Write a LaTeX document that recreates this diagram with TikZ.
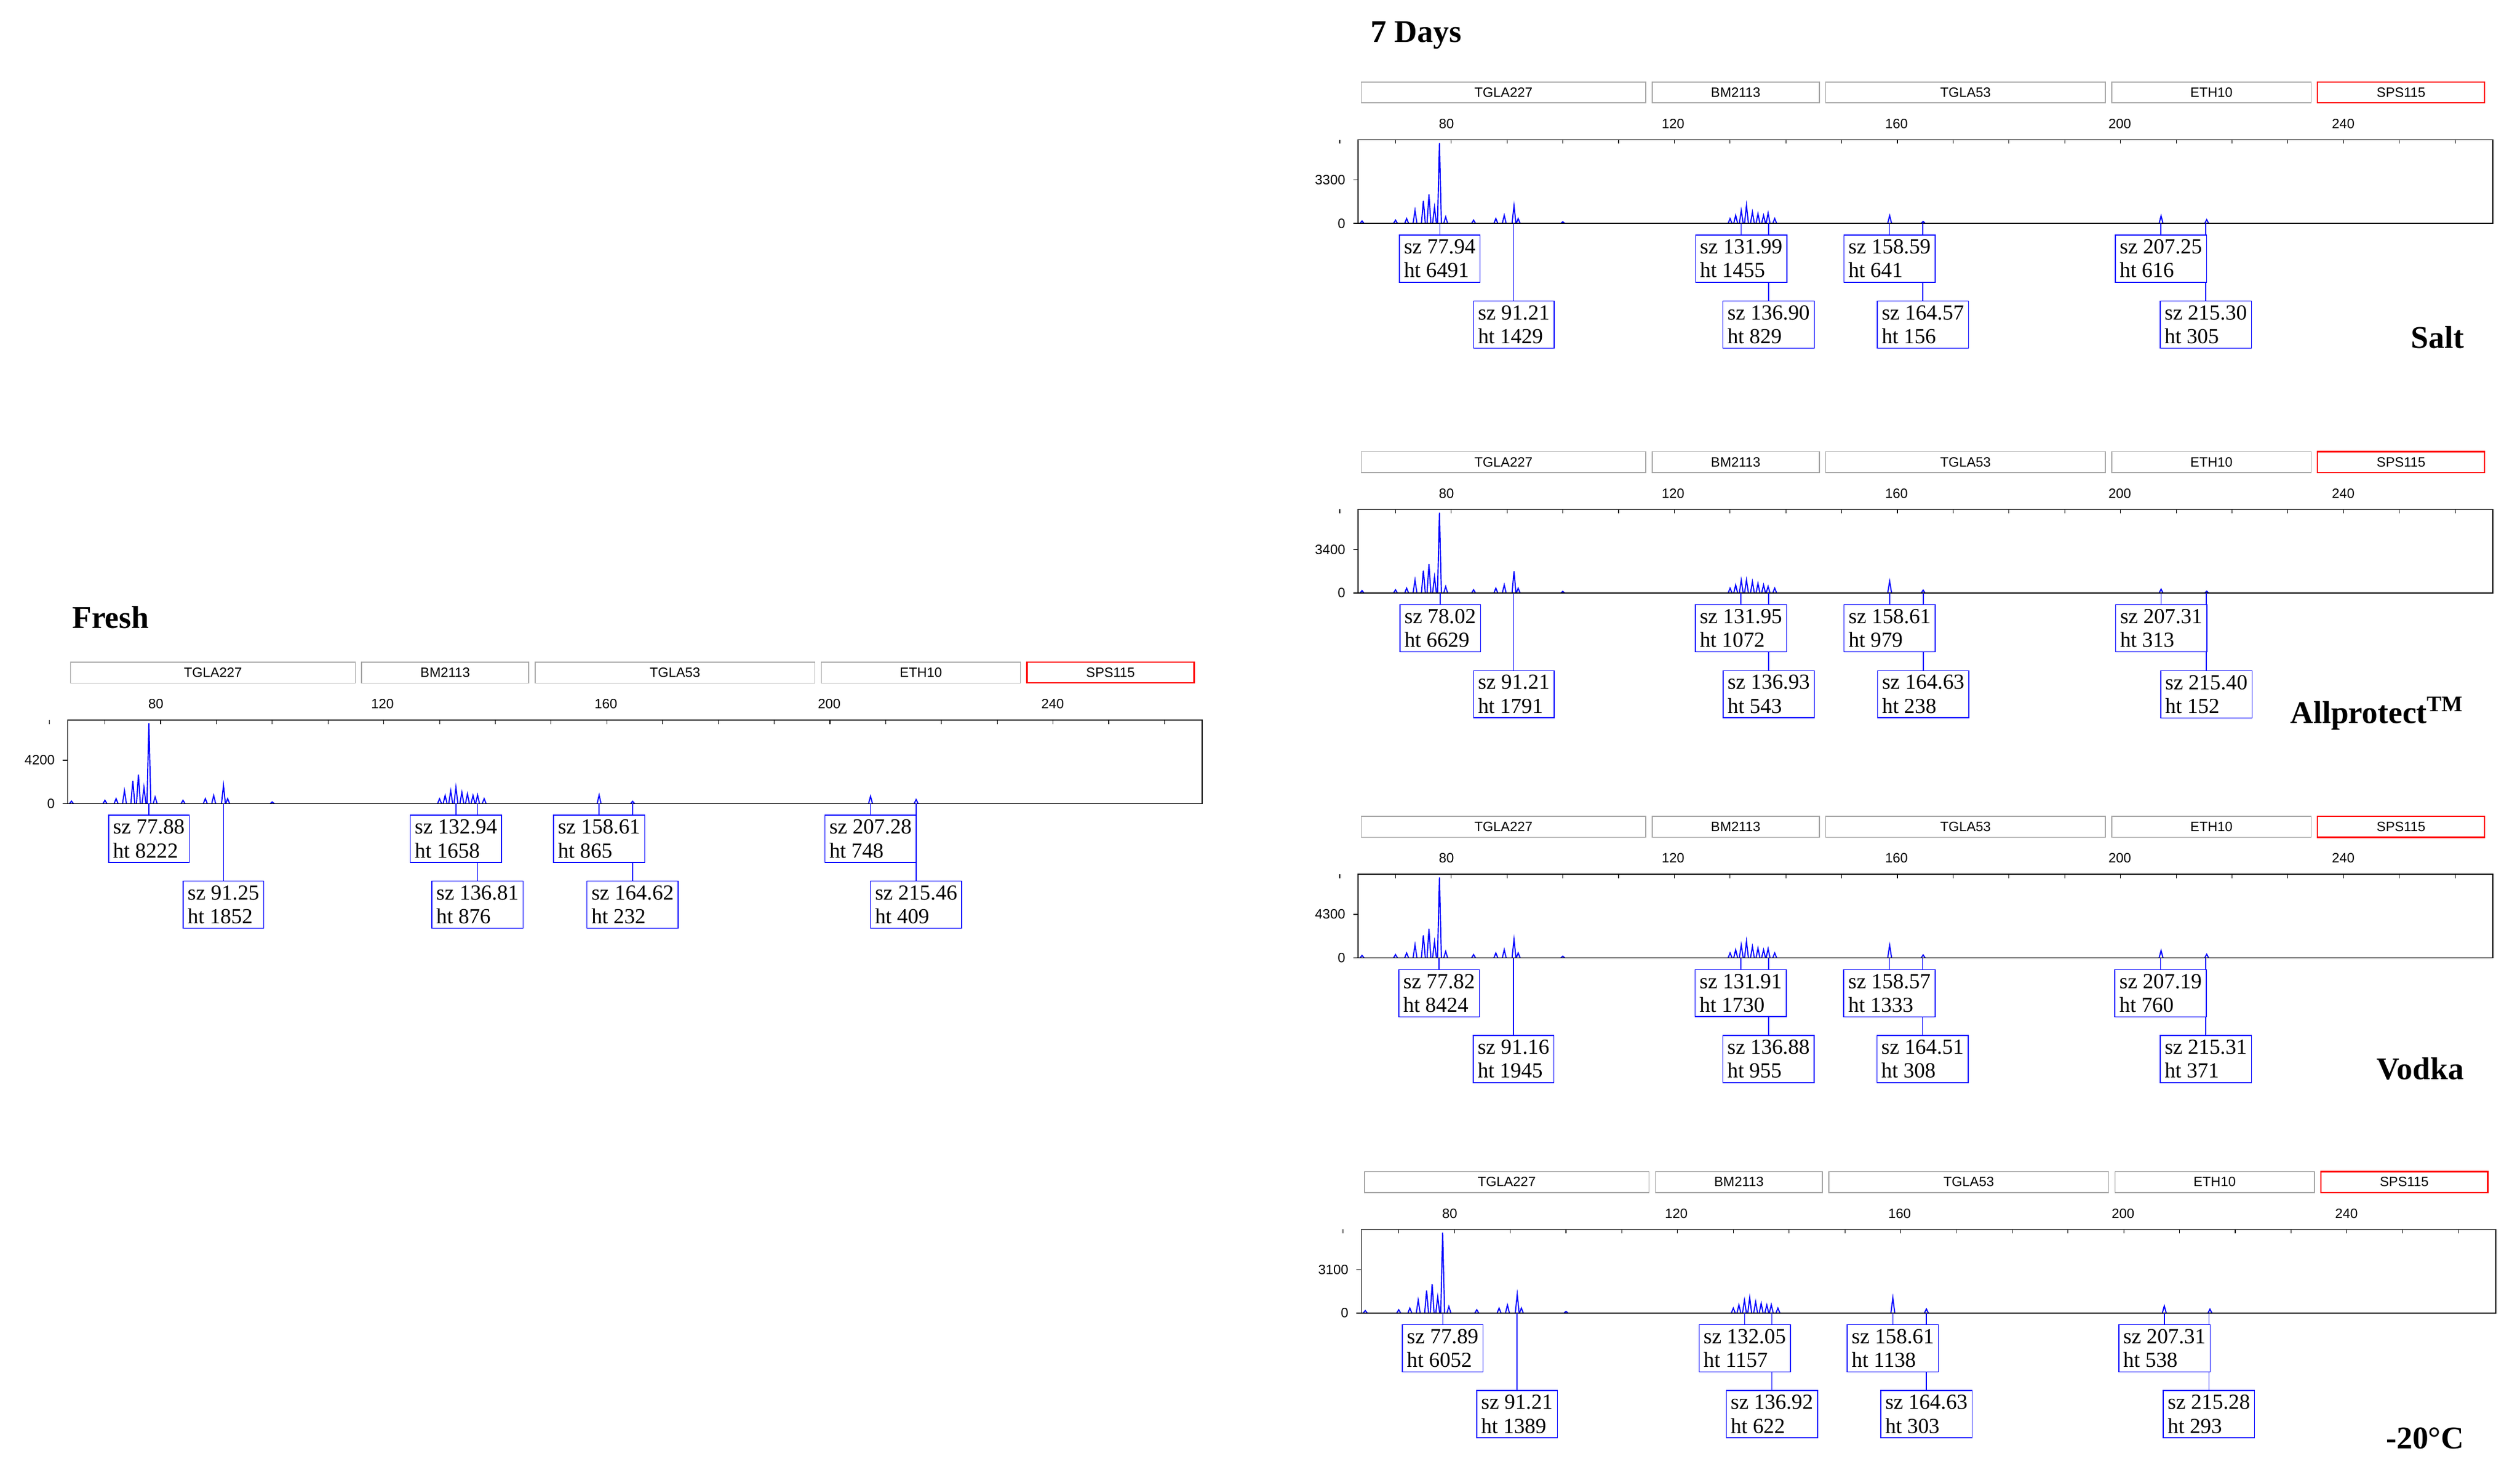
\documentclass[tikz,border=0pt]{standalone}
\usepackage{fontspec}
\setmainfont{Liberation Serif}
\newfontfamily\hdr{Liberation Sans}
\begin{document}
\def\X#1{\fpeval{58+(#1-80)*3.47}}
\tikzset{
 hbox/.style={draw=gray!70,line width=0.4pt},
 htxt/.style={font=\hdr\fontsize{6}{7}\selectfont},
 lbox/.style={draw=blue,fill=white,align=left,inner sep=2pt,font=\fontsize{9.5}{10.5}\selectfont,anchor=north},
 trace/.style={blue,line width=0.5pt},
 conn/.style={blue,line width=0.4pt},
 title/.style={font=\bfseries\fontsize{14}{16}\selectfont}
}
\newcommand\panelbase[1]{%
 \foreach \a/\b/\t in {2/179/TGLA227,183/287/BM2113,291/465/TGLA53,469/593/ETH10}{
   \draw[hbox] (\a,0) rectangle (\b,13);
   \node[htxt] at ({(\a+\b)/2},6.5) {\t};}
 \draw[red,line width=0.6pt] (597,0) rectangle (701,13);
 \node[htxt] at (649,6.5) {SPS115};
 \foreach \x/\t in {55/80,196/120,335/160,474/200,613/240}\node[htxt] at (\x,26) {\t};
 \foreach \i in {0,...,20}\draw[line width=0.3pt] ({\X{60+\i*10}},36) -- ++(0,2.5);
 \draw (0,61) -- (-3,61) (0,88) -- (-3,88);
 \node[htxt,anchor=east] at (-3,61) {#1};
 \node[htxt,anchor=east] at (-3,88) {0};
}
\newcommand\trace[7]{%
 \foreach \b/\h in {64/1.5,70/2,72/3,73.5/8,75/14,76/18,77/10,77.88/50,79/4,84/2,88/3,89.5/5,91.25/#1,92/3,100/1,
   130/3,131/5,132/8,132.94/#2,134/7,135/6,136/5,136.81/#3,138/3,158.61/#4,164.62/#5,207.28/#6,215.46/#7}
   \draw[trace] ({\X{\b}-1.2},88) -- ({\X{\b}},{88-\h}) -- ({\X{\b}+1.2},88);
 \draw[line width=0.4pt] (0,36) rectangle (706,88);
}
\newcommand\lbl[3]{%
 \node[lbox] (lb) at ({\X{#1}},#3) {sz #1\\ht #2};
 \draw[conn] (lb.north) -- ({\X{#1}},88);
}
\newcommand\labels[8]{%
 \lbl{#3}{#4}{136}\lbl{#1}{#2}{95}\lbl{#7}{#8}{136}\lbl{#5}{#6}{95}}
\begin{tikzpicture}[x=0.025cm,y=-0.025cm]
\useasboundingbox (0,0) rectangle (1568,915.6);
\node[title,anchor=west] (fresh) at (40,384) {Fresh};
\node[title,anchor=west] (days) at (848,22) {7 Days};
\node[title,anchor=east] (salt) at (1538,210) {Salt};
\node[title,anchor=east] (allp) at (1538,444) {Allprotect\textsuperscript{TM}};
\node[title,anchor=east] (vod) at (1538,665) {Vodka};
\node[title,anchor=east] (cold) at (1538,895) {-20°C};
% Fresh
\begin{scope}[shift={(42,412)}]
 \panelbase{4200}\trace{11.3}{10.1}{5.3}{5.3}{1.4}{4.5}{2.5}
 \labels{77.88}{8222}{91.25}{1852}{132.94}{1658}{136.81}{876}
 \labels{158.61}{865}{164.62}{232}{207.28}{748}{215.46}{409}
\end{scope}
% Salt
\begin{scope}[shift={(845,51)}]
 \panelbase{3300}\trace{11.0}{11.2}{6.4}{4.9}{1.2}{4.7}{2.3}
 \labels{77.94}{6491}{91.21}{1429}{131.99}{1455}{136.90}{829}
 \labels{158.59}{641}{164.57}{156}{207.25}{616}{215.30}{305}
\end{scope}
% Allprotect
\begin{scope}[shift={(845,281)}]
 \panelbase{3400}\trace{13.5}{8.1}{4.1}{7.4}{1.8}{2.4}{1.1}
 \labels{78.02}{6629}{91.21}{1791}{131.95}{1072}{136.93}{543}
 \labels{158.61}{979}{164.63}{238}{207.31}{313}{215.40}{152}
\end{scope}
% Vodka
\begin{scope}[shift={(845,508)}]
 \panelbase{4300}\trace{11.5}{10.3}{5.7}{7.9}{1.8}{4.5}{2.2}
 \labels{77.82}{8424}{91.16}{1945}{131.91}{1730}{136.88}{955}
 \labels{158.57}{1333}{164.51}{308}{207.19}{760}{215.31}{371}
\end{scope}
% -20C
\begin{scope}[shift={(847,729)}]
 \panelbase{3100}\trace{11.5}{9.6}{5.1}{9.4}{2.5}{4.4}{2.4}
 \labels{77.89}{6052}{91.21}{1389}{132.05}{1157}{136.92}{622}
 \labels{158.61}{1138}{164.63}{303}{207.31}{538}{215.28}{293}
\end{scope}
\end{tikzpicture}
\end{document}
